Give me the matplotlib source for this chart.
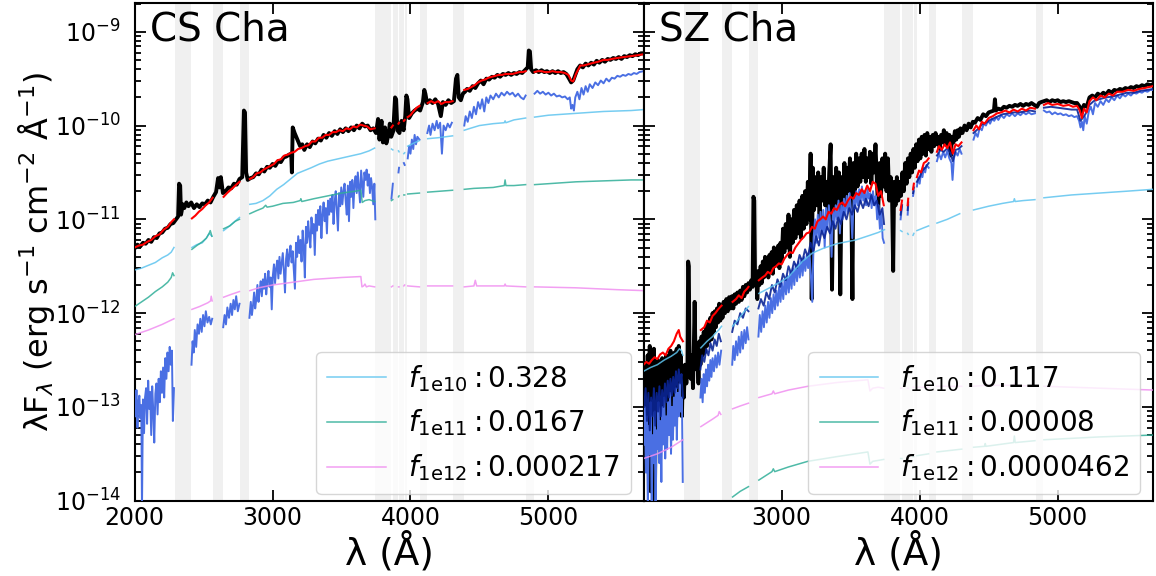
import numpy as np
import matplotlib
matplotlib.use("Agg")
import matplotlib.pyplot as plt
from matplotlib.ticker import LogLocator, FixedLocator

nan = np.nan

# ---------------- shaded (masked) wavelength windows, Angstrom ----------------
mask_bands = [(2290, 2410), (2570, 2640), (2765, 2830), (3745, 3860), (3875, 3912),
              (3918, 3950), (3960, 3978), (4070, 4120), (4310, 4387), (4840, 4895)]

# ---------------- CS Cha : log10(lambda F_lambda) ----------------
cs_obs = [(2000, -11.31), (2020, -11.27), (2040, -11.29), (2060, -11.25), (2080, -11.26), (2100, -11.22),
          (2120, -11.24), (2140, -11.19), (2160, -11.20), (2180, -11.15), (2200, -11.14), (2220, -11.10),
          (2240, -11.09), (2260, -11.05), (2280, -11.04), (2300, -11.00), (2315, -10.97), (2322, -10.62),
          (2330, -10.64), (2336, -10.95), (2350, -10.84), (2360, -10.88), (2375, -10.82), (2390, -10.86),
          (2410, -10.82), (2430, -10.88), (2450, -10.84), (2470, -10.87), (2490, -10.83), (2510, -10.84),
          (2530, -10.80), (2550, -10.82), (2570, -10.76), (2590, -10.71), (2605, -10.56), (2615, -10.66),
          (2625, -10.55), (2640, -10.72), (2660, -10.70), (2680, -10.66), (2700, -10.67), (2720, -10.62),
          (2740, -10.63), (2760, -10.57), (2780, -10.55), (2792, -9.84), (2800, -9.86), (2808, -10.50),
          (2820, -10.58), (2840, -10.56), (2860, -10.55), (2880, -10.51), (2900, -10.52), (2920, -10.47),
          (2940, -10.49), (2960, -10.44), (2980, -10.45), (3000, -10.41), (3020, -10.43), (3040, -10.38),
          (3060, -10.39), (3080, -10.34), (3100, -10.33), (3120, -10.31), (3135, -10.30), (3140, -10.50),
          (3146, -10.02), (3160, -10.08), (3180, -10.15), (3200, -10.22), (3215, -10.20), (3230, -10.26),
          (3250, -10.20), (3270, -10.23), (3290, -10.17), (3310, -10.19), (3330, -10.14), (3350, -10.16),
          (3370, -10.10), (3390, -10.13), (3410, -10.08), (3430, -10.11), (3450, -10.06), (3470, -10.09),
          (3490, -10.04), (3510, -10.07), (3530, -10.03), (3550, -10.06), (3570, -10.02), (3590, -10.05),
          (3610, -10.00), (3630, -10.03), (3650, -9.98), (3670, -10.01), (3690, -10.00), (3710, -10.05),
          (3730, -10.03), (3750, -10.08), (3765, -9.93), (3775, -10.15), (3790, -9.95), (3800, -10.18),
          (3815, -10.02), (3825, -10.19), (3840, -10.10), (3850, -9.98), (3860, -10.12), (3875, -10.06),
          (3888, -9.70), (3896, -9.72), (3905, -10.05), (3920, -10.08), (3935, -9.95), (3950, -10.05),
          (3962, -9.90), (3970, -9.68), (3978, -9.72), (3990, -9.92), (4010, -9.87), (4030, -9.84),
          (4050, -9.82), (4070, -9.84), (4090, -9.75), (4100, -9.62), (4108, -9.66), (4120, -9.76),
          (4140, -9.73), (4160, -9.76), (4180, -9.72), (4200, -9.77), (4220, -9.90), (4235, -9.75),
          (4255, -9.78), (4275, -9.73), (4295, -9.76), (4315, -9.74), (4330, -9.50), (4340, -9.46),
          (4350, -9.70), (4365, -9.73), (4380, -9.66), (4395, -9.64), (4410, -9.61), (4430, -9.63),
          (4450, -9.58), (4470, -9.60), (4490, -9.55), (4510, -9.52), (4530, -9.56), (4550, -9.50),
          (4570, -9.51), (4590, -9.48), (4610, -9.49), (4630, -9.46), (4650, -9.48), (4670, -9.45),
          (4690, -9.46), (4710, -9.44), (4730, -9.46), (4750, -9.44), (4770, -9.45), (4790, -9.43),
          (4810, -9.44), (4830, -9.41), (4850, -9.38), (4858, -9.20), (4866, -9.21), (4875, -9.40),
          (4890, -9.43), (4910, -9.41), (4930, -9.43), (4950, -9.41), (4970, -9.43), (4990, -9.42),
          (5010, -9.44), (5030, -9.42), (5050, -9.44), (5070, -9.42), (5090, -9.44), (5110, -9.43),
          (5130, -9.45), (5150, -9.50), (5165, -9.54), (5180, -9.52), (5195, -9.46), (5210, -9.40),
          (5230, -9.36), (5250, -9.38), (5270, -9.34), (5290, -9.36), (5310, -9.33), (5330, -9.35),
          (5350, -9.31), (5370, -9.33), (5390, -9.30), (5410, -9.32), (5430, -9.29), (5450, -9.30),
          (5470, -9.28), (5490, -9.29), (5510, -9.27), (5530, -9.29), (5550, -9.26), (5570, -9.27),
          (5590, -9.25), (5610, -9.26), (5630, -9.24), (5650, -9.25), (5670, -9.23), (5690, -9.23)]

cs_model = [(2000, -11.30), (2030, -11.28), (2060, -11.27), (2090, -11.24), (2120, -11.22), (2150, -11.18),
            (2180, -11.16), (2210, -11.11), (2240, -11.08), (2265, -11.03), (2285, -11.00), (2290, nan),
            (2415, -10.99), (2440, -10.96), (2465, -10.92), (2490, -10.89), (2515, -10.85), (2540, -10.82),
            (2565, -10.77), (2570, nan), (2645, -10.76), (2670, -10.72), (2700, -10.68), (2730, -10.64),
            (2760, -10.60), (2765, nan), (2835, -10.57), (2860, -10.55), (2885, -10.51), (2910, -10.50),
            (2935, -10.47), (2960, -10.45), (2985, -10.43), (3010, -10.41), (3035, -10.37), (3060, -10.36),
            (3085, -10.32), (3110, -10.31), (3135, -10.29), (3160, -10.28), (3185, -10.25), (3210, -10.24),
            (3235, -10.22), (3260, -10.21), (3285, -10.17), (3310, -10.17), (3335, -10.13), (3360, -10.13),
            (3385, -10.10), (3410, -10.10), (3435, -10.07), (3460, -10.07), (3485, -10.05), (3510, -10.06),
            (3535, -10.03), (3560, -10.04), (3585, -10.01), (3610, -10.02), (3635, -9.99), (3660, -10.00),
            (3685, -10.01), (3710, -10.04), (3740, -10.03), (3745, nan), (3862, -10.02), (3872, -10.00),
            (3875, nan), (3913, -9.98), (3917, -9.97), (3918, nan), (3952, -9.95), (3958, -9.94), (3960, nan),
            (3980, -9.91), (4000, -9.89), (4020, -9.85), (4045, -9.81), (4065, -9.79), (4070, nan),
            (4125, -9.76), (4150, -9.74), (4175, -9.76), (4200, -9.74), (4225, -9.77), (4250, -9.75),
            (4280, -9.75), (4305, -9.74), (4310, nan), (4390, -9.62), (4415, -9.61), (4440, -9.59),
            (4465, -9.57), (4490, -9.54), (4515, -9.52), (4540, -9.51), (4565, -9.49), (4590, -9.48),
            (4615, -9.47), (4640, -9.46), (4665, -9.46), (4690, -9.45), (4715, -9.45), (4740, -9.45),
            (4765, -9.44), (4790, -9.43), (4815, -9.43), (4835, -9.42), (4840, nan), (4900, -9.43),
            (4925, -9.42), (4950, -9.42), (4975, -9.43), (5000, -9.43), (5030, -9.42), (5060, -9.43),
            (5090, -9.43), (5120, -9.44), (5145, -9.46), (5165, -9.52), (5180, -9.53), (5200, -9.45),
            (5231, -9.36), (5255, -9.36), (5280, -9.35), (5305, -9.34), (5330, -9.33), (5360, -9.32),
            (5400, -9.30), (5430, -9.30), (5460, -9.29), (5500, -9.28), (5546, -9.27), (5600, -9.26),
            (5650, -9.25), (5690, -9.24)]

cs_phot = [(2005, -13.10), (2013, -12.82), (2020, -13.22), (2027, -12.95), (2034, -12.88), (2041, -13.12),
           (2048, -12.98), (2053, -14.10), (2060, -12.92), (2068, -13.28), (2075, -12.90), (2083, -12.80),
           (2090, -13.18), (2098, -12.72), (2105, -13.02), (2112, -12.84), (2120, -13.30), (2127, -12.78),
           (2135, -13.05), (2142, -13.38), (2150, -12.86), (2158, -12.75), (2166, -13.08), (2174, -12.70),
           (2182, -12.95), (2190, -12.62), (2198, -12.85), (2206, -12.58), (2214, -12.90), (2222, -12.48),
           (2230, -12.70), (2238, -12.42), (2246, -12.62), (2254, -12.36), (2262, -12.55), (2270, -12.40),
           (2277, -13.15), (2285, -12.80), (2290, nan),
           (2412, -12.55), (2420, -12.30), (2428, -12.42), (2436, -12.18), (2446, -12.36), (2456, -12.12),
           (2466, -12.22), (2476, -12.06), (2486, -12.20), (2496, -12.02), (2506, -12.14), (2516, -11.98),
           (2528, -12.10), (2540, -12.04), (2552, -12.12), (2562, -12.06), (2570, nan),
           (2642, -12.15), (2652, -12.02), (2662, -12.12), (2672, -11.94), (2684, -12.05), (2696, -11.90),
           (2706, -12.02), (2716, -11.86), (2726, -11.96), (2736, -11.82), (2748, -11.98), (2760, -11.90),
           (2765, nan),
           (2832, -12.05), (2842, -11.88), (2850, -12.02), (2858, -11.92), (2866, -11.78), (2874, -11.95),
           (2882, -11.85), (2890, -11.70), (2898, -11.88), (2906, -11.76), (2914, -11.66), (2922, -11.82),
           (2930, -11.64), (2938, -11.74), (2946, -11.58), (2954, -11.80), (2962, -11.66), (2970, -11.55),
           (2978, -11.72), (2986, -11.62), (2994, -11.96), (3002, -11.60), (3010, -11.48), (3018, -11.68),
           (3026, -11.52), (3034, -11.44), (3042, -11.63), (3050, -11.40), (3058, -11.58), (3066, -11.47),
           (3074, -11.36), (3082, -11.55), (3090, -11.78), (3098, -11.42), (3106, -11.32), (3114, -11.50),
           (3122, -11.38), (3130, -11.28), (3138, -11.46), (3146, -11.34), (3154, -11.55), (3162, -11.74),
           (3170, -11.25), (3178, -11.40), (3186, -11.18), (3194, -11.36), (3202, -11.22), (3210, -11.45),
           (3218, -11.12), (3226, -11.30), (3234, -11.62), (3242, -11.08), (3250, -11.25), (3258, -11.02),
           (3266, -11.18), (3274, -11.30), (3282, -10.98), (3290, -11.15), (3298, -11.05), (3306, -11.38),
           (3314, -10.95), (3322, -11.12), (3330, -10.90), (3338, -11.06), (3346, -10.86), (3354, -11.20),
           (3362, -10.95), (3370, -10.82), (3378, -11.02), (3386, -10.88), (3394, -11.15), (3402, -10.80),
           (3410, -10.95), (3418, -10.78), (3426, -10.92), (3434, -10.74), (3442, -11.05), (3450, -10.82),
           (3458, -10.70), (3466, -10.90), (3474, -11.12), (3482, -10.72), (3490, -10.86), (3498, -10.66),
           (3506, -10.84), (3514, -10.70), (3522, -10.62), (3530, -10.80), (3538, -10.95), (3546, -10.64),
           (3554, -11.02), (3562, -10.60), (3570, -10.76), (3578, -10.58), (3586, -10.88), (3594, -10.62),
           (3602, -10.54), (3610, -10.72), (3618, -10.50), (3626, -10.66), (3634, -10.82), (3642, -10.48),
           (3650, -10.62), (3658, -10.76), (3666, -10.50), (3674, -10.58), (3682, -10.47), (3690, -10.64),
           (3698, -10.52), (3706, -10.72), (3714, -10.56), (3722, -10.66), (3730, -10.84), (3738, -10.62),
           (3745, -11.00), (3750, nan),
           (3862, -10.78), (3872, -10.62), (3875, nan), (3913, -10.50), (3917, -10.45),
           (3918, nan), (3952, -10.40), (3958, -10.42), (3960, nan),
           (3980, -10.35), (3990, -10.22), (4000, -10.30), (4010, -10.15), (4020, -10.25), (4030, -10.10),
           (4040, -10.20), (4050, -10.12), (4065, -10.15), (4070, nan),
           (4122, -10.08), (4135, -10.00), (4145, -10.10), (4160, -9.98), (4175, -10.05), (4190, -9.95),
           (4200, -10.03), (4215, -9.97), (4228, -10.30), (4240, -10.00), (4255, -10.05), (4270, -9.98),
           (4285, -10.02), (4300, -9.97), (4310, nan),
           (4390, -10.00), (4400, -9.90), (4415, -9.96), (4430, -9.85), (4445, -9.92), (4460, -9.80),
           (4475, -9.88), (4490, -9.75), (4505, -9.82), (4520, -9.72), (4535, -9.85), (4550, -9.70),
           (4565, -9.76), (4580, -9.68), (4600, -9.72), (4620, -9.66), (4640, -9.70), (4660, -9.65),
           (4680, -9.68), (4700, -9.64), (4720, -9.67), (4740, -9.65), (4760, -9.69), (4780, -9.66),
           (4800, -9.70), (4820, -9.72), (4835, -9.68), (4840, nan),
           (4900, -9.66), (4920, -9.63), (4940, -9.66), (4960, -9.64), (4980, -9.67), (5000, -9.65),
           (5020, -9.68), (5040, -9.66), (5060, -9.69), (5080, -9.68), (5100, -9.70), (5120, -9.69),
           (5140, -9.72), (5155, -9.70), (5165, -9.82), (5175, -9.78), (5185, -9.84), (5195, -9.70),
           (5210, -9.64), (5225, -9.72), (5240, -9.60), (5255, -9.67), (5270, -9.58), (5285, -9.64),
           (5300, -9.56), (5320, -9.60), (5340, -9.54), (5360, -9.57), (5380, -9.52), (5400, -9.55),
           (5420, -9.50), (5440, -9.53), (5460, -9.49), (5480, -9.50), (5500, -9.47), (5520, -9.48),
           (5540, -9.46), (5560, -9.47), (5580, -9.45), (5600, -9.46), (5620, -9.44), (5640, -9.45),
           (5660, -9.43), (5690, -9.42)]

cs_f1e10 = [(2000, -11.54), (2050, -11.52), (2100, -11.49), (2150, -11.46), (2200, -11.41), (2240, -11.38),
            (2265, -11.35), (2285, -11.30), (2290, nan), (2415, -11.30), (2450, -11.27), (2490, -11.25),
            (2520, -11.20), (2540, -11.15), (2560, -11.18), (2570, nan), (2645, -11.12), (2680, -11.08),
            (2720, -11.03), (2760, -10.98), (2765, nan), (2835, -10.84), (2880, -10.83), (2930, -10.80),
            (2980, -10.75), (3030, -10.68), (3080, -10.63), (3130, -10.57), (3180, -10.51), (3230, -10.48),
            (3280, -10.45), (3340, -10.41), (3400, -10.38), (3460, -10.36), (3520, -10.34), (3580, -10.32),
            (3640, -10.30), (3700, -10.27), (3740, -10.24), (3745, nan), (3862, -10.25), (3872, -10.26),
            (3875, nan), (3913, -10.27), (3917, -10.28), (3918, nan), (3952, -10.30), (3958, -10.29),
            (3960, nan), (3980, -10.22), (4020, -10.19), (4065, -10.16), (4070, nan), (4125, -10.14),
            (4200, -10.13), (4305, -10.11), (4310, nan), (4390, -10.05), (4433, -10.03), (4500, -10.00),
            (4600, -9.98), (4680, -9.97), (4686, -9.95), (4692, -9.97), (4750, -9.94), (4835, -9.92),
            (4840, nan), (4900, -9.91), (5000, -9.89), (5200, -9.87), (5400, -9.85), (5600, -9.84),
            (5690, -9.83)]

cs_f1e11 = [(2000, -11.93), (2050, -11.88), (2100, -11.83), (2150, -11.77), (2200, -11.72), (2240, -11.67),
            (2265, -11.62), (2275, -11.57), (2285, -11.60), (2290, nan), (2415, -11.32), (2450, -11.28),
            (2490, -11.24), (2520, -11.20), (2540, -11.15), (2548, -11.12), (2560, -11.18), (2570, nan),
            (2645, -11.10), (2690, -11.07), (2730, -11.02), (2760, -11.00), (2765, nan), (2835, -10.94),
            (2880, -10.91), (2930, -10.88), (2950, -10.85), (2960, -10.87), (3000, -10.86), (3075, -10.83),
            (3150, -10.82), (3200, -10.80), (3205, -10.78), (3212, -10.81), (3300, -10.78), (3400, -10.75),
            (3500, -10.72), (3600, -10.70), (3640, -10.69), (3650, -10.82), (3670, -10.80), (3700, -10.79),
            (3740, -10.81), (3745, nan), (3862, -10.80), (3872, -10.79), (3875, nan), (3913, -10.76),
            (3917, -10.75), (3918, nan), (3952, -10.74), (3958, -10.74), (3960, nan), (3980, -10.73),
            (4065, -10.72), (4070, nan), (4125, -10.71), (4305, -10.69), (4310, nan), (4390, -10.68),
            (4460, -10.67), (4600, -10.66), (4680, -10.64), (4686, -10.58), (4692, -10.64), (4750, -10.64),
            (4835, -10.63), (4840, nan), (4900, -10.63), (5000, -10.62), (5200, -10.60), (5400, -10.59),
            (5600, -10.58), (5690, -10.58)]

cs_f1e12 = [(2000, -12.23), (2100, -12.18), (2200, -12.12), (2285, -12.06), (2290, nan), (2415, -11.96),
            (2470, -11.93), (2530, -11.89), (2550, -11.87), (2555, -11.82), (2562, -11.87), (2570, nan),
            (2645, -11.83), (2700, -11.80), (2760, -11.77), (2765, nan), (2835, -11.76), (2900, -11.73),
            (3000, -11.70), (3100, -11.68), (3200, -11.66), (3300, -11.64), (3400, -11.63), (3500, -11.62),
            (3640, -11.61), (3648, -11.72), (3660, -11.71), (3670, -11.69), (3680, -11.72), (3700, -11.71),
            (3740, -11.72), (3745, nan), (3862, -11.72), (3872, -11.71), (3875, nan), (3913, -11.72),
            (3917, -11.72), (3918, nan), (3952, -11.71), (3958, -11.70), (3960, nan), (3980, -11.71),
            (4065, -11.72), (4070, nan), (4125, -11.71), (4305, -11.71), (4310, nan), (4390, -11.72),
            (4460, -11.71), (4470, -11.65), (4480, -11.71), (4680, -11.71), (4686, -11.69), (4692, -11.71),
            (4835, -11.72), (4840, nan), (4900, -11.72), (5200, -11.73), (5500, -11.75), (5690, -11.76)]

# ---------------- SZ Cha : log10(lambda F_lambda) ----------------
sz_obs = [(2000, -12.60), (2008, -13.30), (2015, -12.55), (2022, -13.60), (2030, -12.45), (2038, -13.10),
          (2045, -12.35), (2052, -13.90), (2060, -12.55), (2068, -13.20), (2075, -12.38), (2082, -14.05),
          (2090, -12.60), (2098, -13.10), (2105, -12.50), (2112, -13.40), (2120, -12.58), (2128, -13.00),
          (2135, -12.48), (2142, -13.30), (2150, -12.55), (2158, -12.95), (2165, -12.45), (2172, -13.20),
          (2180, -12.50), (2188, -12.90), (2195, -12.40), (2202, -13.05), (2210, -12.45), (2218, -12.80),
          (2225, -12.42), (2232, -12.95), (2240, -12.38), (2248, -12.70), (2255, -12.35), (2262, -12.85),
          (2270, -12.45), (2278, -13.10), (2285, -12.60), (2292, -12.90), (2300, -12.55), (2310, -12.75),
          (2318, -12.60), (2323, -11.45), (2328, -11.50), (2333, -12.50), (2342, -12.70), (2350, -12.45),
          (2358, -12.80), (2365, -12.30), (2370, -11.88), (2375, -12.35), (2382, -12.60), (2390, -12.40),
          (2398, -12.75), (2405, -12.30), (2412, -12.55), (2420, -12.25), (2428, -12.45), (2436, -12.20),
          (2444, -12.42), (2452, -12.15), (2460, -12.35), (2468, -12.10), (2476, -12.30), (2484, -12.05),
          (2492, -12.28), (2500, -12.00), (2508, -12.20), (2516, -11.98), (2524, -12.15), (2532, -11.95),
          (2540, -12.10), (2548, -11.90), (2556, -12.08), (2564, -11.92), (2572, -12.05), (2580, -11.88),
          (2590, -12.00), (2600, -11.85), (2610, -11.98), (2620, -11.83), (2630, -11.95), (2640, -11.82),
          (2650, -11.95), (2660, -11.80), (2670, -11.90), (2680, -11.78), (2690, -11.88), (2700, -11.76),
          (2710, -11.86), (2720, -11.72), (2730, -11.82), (2740, -11.70), (2750, -11.78), (2760, -11.68),
          (2770, -11.75), (2780, -11.65), (2790, -11.72), (2796, -10.76), (2802, -10.80), (2808, -11.70),
          (2816, -11.60), (2824, -11.85), (2832, -11.55), (2840, -11.70), (2848, -11.50), (2856, -11.68),
          (2864, -11.45), (2872, -11.62), (2880, -11.40), (2888, -11.58), (2896, -11.42), (2904, -11.62),
          (2912, -11.38), (2920, -11.55), (2928, -11.35), (2936, -11.58), (2944, -11.30), (2952, -11.50),
          (2960, -11.33), (2968, -11.48), (2976, -11.28), (2984, -11.52), (2992, -11.25), (3000, -11.45),
          (3010, -11.10), (3020, -11.35), (3030, -11.05), (3040, -11.30), (3050, -10.95), (3060, -11.40),
          (3070, -11.00), (3080, -11.25), (3090, -10.90), (3100, -11.20), (3110, -10.85), (3120, -11.15),
          (3130, -10.80), (3140, -11.20), (3150, -10.75), (3160, -11.10), (3170, -10.70), (3180, -11.05),
          (3190, -10.60), (3200, -11.00), (3210, -10.30), (3218, -11.85), (3226, -10.45), (3235, -10.90),
          (3245, -10.55), (3255, -10.85), (3265, -10.50), (3275, -11.00), (3285, -10.55), (3295, -10.80),
          (3305, -10.45), (3315, -10.85), (3325, -10.60), (3335, -10.95), (3345, -10.50), (3355, -10.20),
          (3365, -11.75), (3375, -10.55), (3385, -10.85), (3395, -10.45), (3405, -10.80), (3415, -10.50),
          (3425, -11.80), (3435, -10.55), (3445, -10.75), (3455, -10.40), (3465, -10.85), (3475, -10.45),
          (3485, -10.70), (3495, -10.35), (3505, -10.80), (3513, -11.85), (3520, -10.40), (3530, -10.70),
          (3540, -10.30), (3550, -10.65), (3560, -10.35), (3570, -10.60), (3580, -10.30), (3590, -10.55),
          (3600, -10.25), (3610, -10.60), (3620, -10.35), (3630, -10.55), (3640, -10.28), (3650, -10.62),
          (3660, -10.30), (3670, -10.50), (3680, -10.20), (3690, -10.60), (3700, -10.90), (3710, -10.40),
          (3720, -10.75), (3730, -10.35), (3740, -10.65), (3750, -10.30), (3760, -10.70), (3770, -10.35),
          (3780, -10.80), (3790, -10.55), (3800, -10.75), (3808, -11.55), (3815, -10.60), (3825, -10.85),
          (3835, -10.55), (3845, -10.80), (3855, -10.60), (3865, -10.75), (3875, -10.50), (3885, -10.70),
          (3895, -10.40), (3905, -10.62), (3915, -10.35), (3925, -10.55), (3935, -10.30), (3945, -10.50),
          (3955, -10.25), (3965, -10.45), (3975, -10.20), (3985, -10.38), (3995, -10.15), (4005, -10.35),
          (4015, -10.12), (4025, -10.30), (4035, -10.10), (4045, -10.32), (4055, -10.08), (4065, -10.25),
          (4075, -10.12), (4085, -10.28), (4095, -10.10), (4105, -10.22), (4115, -10.08), (4125, -10.20),
          (4135, -10.12), (4145, -10.25), (4155, -10.10), (4165, -10.18), (4175, -10.05), (4185, -10.20),
          (4195, -10.08), (4205, -10.22), (4215, -10.10), (4225, -10.32), (4235, -10.12), (4245, -10.18),
          (4255, -10.06), (4265, -10.15), (4275, -10.05), (4285, -10.12), (4295, -10.03), (4310, -10.08),
          (4325, -10.00), (4340, -10.05), (4355, -9.98), (4370, -10.02), (4385, -9.96), (4400, -9.97),
          (4420, -9.92), (4440, -9.94), (4460, -9.88), (4480, -9.90), (4500, -9.86), (4520, -9.85),
          (4538, -9.84), (4545, -9.72), (4552, -9.84), (4570, -9.82), (4590, -9.83), (4610, -9.80),
          (4630, -9.81), (4650, -9.79), (4670, -9.80), (4690, -9.78), (4710, -9.79), (4730, -9.77),
          (4750, -9.79), (4770, -9.77), (4790, -9.78), (4810, -9.76), (4830, -9.78), (4850, -9.80),
          (4865, -9.76), (4880, -9.75), (4900, -9.74), (4920, -9.73), (4940, -9.75), (4960, -9.73),
          (4980, -9.74), (5000, -9.73), (5020, -9.75), (5040, -9.74), (5060, -9.75), (5080, -9.74),
          (5100, -9.75), (5120, -9.76), (5140, -9.76), (5160, -9.80), (5175, -9.86), (5190, -9.78),
          (5210, -9.80), (5230, -9.70), (5250, -9.68), (5270, -9.70), (5290, -9.66), (5310, -9.68),
          (5330, -9.65), (5350, -9.67), (5370, -9.63), (5390, -9.65), (5410, -9.62), (5430, -9.63),
          (5450, -9.61), (5470, -9.62), (5490, -9.60), (5510, -9.61), (5530, -9.59), (5550, -9.60),
          (5570, -9.58), (5590, -9.59), (5610, -9.57), (5630, -9.58), (5650, -9.56), (5670, -9.57),
          (5690, -9.56)]

sz_model = [(2000, -12.55), (2020, -12.52), (2040, -12.54), (2060, -12.50), (2080, -12.47), (2100, -12.49),
            (2120, -12.44), (2140, -12.42), (2160, -12.45), (2180, -12.38), (2200, -12.35), (2220, -12.30),
            (2240, -12.22), (2255, -12.18), (2265, -12.25), (2285, -12.30), (2290, nan), (2415, -12.18),
            (2440, -12.15), (2460, -12.08), (2480, -12.10), (2500, -12.03), (2520, -12.00), (2540, -11.96),
            (2565, -11.92), (2570, nan), (2645, -11.88), (2670, -11.85), (2690, -11.81), (2710, -11.84),
            (2730, -11.77), (2750, -11.74), (2760, -11.72), (2765, nan), (2835, -11.65), (2860, -11.62),
            (2880, -11.60), (2900, -11.56), (2920, -11.58), (2940, -11.52), (2960, -11.50), (2980, -11.47),
            (3000, -11.48), (3020, -11.42), (3040, -11.38), (3060, -11.35), (3080, -11.36), (3100, -11.30),
            (3120, -11.26), (3140, -11.22), (3160, -11.19), (3180, -11.15), (3200, -11.14), (3220, -11.08),
            (3240, -11.10), (3260, -11.02), (3280, -11.00), (3300, -10.97), (3320, -11.00), (3340, -10.92),
            (3360, -10.94), (3380, -10.88), (3400, -10.90), (3420, -10.84), (3440, -10.82), (3460, -10.86),
            (3480, -10.80), (3500, -10.76), (3520, -10.78), (3540, -10.72), (3560, -10.74), (3580, -10.68),
            (3600, -10.72), (3620, -10.64), (3640, -10.70), (3660, -10.60), (3680, -10.62), (3700, -10.75),
            (3720, -10.70), (3740, -10.85), (3745, nan), (3862, -10.90), (3872, -10.80), (3875, nan),
            (3913, -10.85), (3917, -10.78), (3918, nan), (3952, -10.68), (3958, -10.62), (3960, nan),
            (3980, -10.55), (3995, -10.48), (4010, -10.50), (4030, -10.40), (4050, -10.38), (4065, -10.35),
            (4070, nan), (4125, -10.28), (4140, -10.22), (4160, -10.26), (4180, -10.20), (4200, -10.24),
            (4220, -10.18), (4240, -10.30), (4260, -10.20), (4280, -10.22), (4303, -10.18), (4310, nan),
            (4390, -10.05), (4410, -10.00), (4430, -10.04), (4450, -9.96), (4470, -9.98), (4500, -9.92),
            (4530, -9.90), (4560, -9.87), (4590, -9.86), (4620, -9.84), (4650, -9.86), (4680, -9.83),
            (4710, -9.85), (4740, -9.82), (4770, -9.84), (4800, -9.81), (4835, -9.82), (4840, nan),
            (4900, -9.78), (4930, -9.76), (4960, -9.78), (5000, -9.77), (5040, -9.79), (5080, -9.78),
            (5110, -9.80), (5140, -9.79), (5160, -9.84), (5175, -9.92), (5190, -9.82), (5210, -9.86),
            (5230, -9.74), (5255, -9.70), (5280, -9.73), (5310, -9.68), (5340, -9.70), (5370, -9.66),
            (5400, -9.68), (5430, -9.64), (5470, -9.64), (5510, -9.62), (5550, -9.63), (5590, -9.61),
            (5630, -9.60), (5690, -9.58)]

sz_phot = [(2003, -13.40), (2010, -13.00), (2017, -13.70), (2024, -13.10), (2031, -14.10), (2038, -13.20),
           (2045, -13.50), (2052, -12.95), (2059, -14.10), (2066, -13.30), (2073, -13.60), (2080, -13.05),
           (2087, -14.05), (2094, -13.25), (2101, -13.45), (2108, -12.95), (2115, -13.60), (2122, -13.15),
           (2129, -13.80), (2136, -13.00), (2143, -13.40), (2150, -12.90), (2157, -13.55), (2164, -13.10),
           (2171, -13.45), (2178, -12.95), (2185, -13.30), (2192, -12.85), (2199, -13.50), (2206, -13.00),
           (2213, -13.35), (2220, -12.90), (2227, -13.20), (2234, -12.80), (2241, -13.35), (2248, -12.85),
           (2255, -13.10), (2262, -12.75), (2270, -13.05), (2278, -12.90), (2284, -13.80), (2290, nan),
           (2412, -12.90), (2420, -12.70), (2428, -12.95), (2436, -12.65), (2444, -12.85), (2452, -12.60),
           (2460, -12.78), (2468, -12.55), (2476, -12.72), (2484, -12.50), (2492, -12.68), (2500, -12.48),
           (2510, -12.62), (2520, -12.45), (2530, -12.58), (2540, -12.42), (2550, -12.55), (2562, -12.40),
           (2570, nan),
           (2642, -12.55), (2650, -12.35), (2660, -12.50), (2670, -12.30), (2680, -12.45), (2690, -12.25),
           (2700, -12.42), (2710, -12.20), (2720, -12.38), (2730, -12.18), (2740, -12.32), (2750, -12.15),
           (2760, -12.28), (2765, nan),
           (2832, -12.25), (2842, -12.02), (2852, -12.20), (2862, -11.98), (2872, -12.15), (2882, -11.92),
           (2892, -12.10), (2902, -11.88), (2912, -12.05), (2922, -11.84), (2932, -12.00), (2942, -11.80),
           (2952, -11.96), (2962, -11.76), (2972, -11.92), (2982, -11.72), (2992, -11.88), (3002, -11.68),
           (3012, -11.85), (3022, -11.64), (3032, -11.80), (3042, -11.60), (3052, -11.78), (3062, -11.56),
           (3072, -11.74), (3082, -11.52), (3092, -11.70), (3102, -11.48), (3112, -11.66), (3122, -11.45),
           (3132, -11.62), (3142, -11.42), (3152, -11.60), (3162, -11.40), (3172, -11.55), (3182, -11.38),
           (3192, -11.52), (3202, -11.36), (3212, -11.60), (3222, -11.88), (3232, -11.20), (3242, -11.00),
           (3252, -11.25), (3262, -10.95), (3272, -11.20), (3282, -10.92), (3292, -11.15), (3302, -10.90),
           (3312, -11.30), (3322, -10.88), (3332, -11.10), (3342, -10.85), (3352, -11.05), (3362, -11.40),
           (3372, -10.90), (3382, -11.05), (3392, -10.85), (3402, -11.00), (3412, -10.80), (3422, -11.15),
           (3432, -10.85), (3442, -11.00), (3452, -10.78), (3462, -10.95), (3472, -10.75), (3482, -10.92),
           (3492, -10.72), (3502, -10.90), (3512, -11.20), (3522, -10.78), (3532, -10.88), (3542, -10.70),
           (3552, -10.85), (3562, -10.68), (3572, -10.82), (3582, -10.65), (3592, -10.80), (3602, -10.70),
           (3612, -10.85), (3622, -10.68), (3632, -10.78), (3642, -10.72), (3652, -10.88), (3662, -10.70),
           (3672, -10.85), (3682, -10.75), (3692, -11.00), (3702, -10.85), (3712, -11.10), (3722, -10.90),
           (3732, -11.20), (3742, -11.25), (3745, nan),
           (3862, -11.00), (3872, -10.85), (3875, nan), (3913, -10.95), (3917, -10.85), (3918, nan),
           (3952, -10.75), (3958, -10.70), (3960, nan),
           (3980, -10.65), (3990, -10.55), (4000, -10.62), (4010, -10.50), (4020, -10.55), (4030, -10.45),
           (4040, -10.50), (4050, -10.42), (4065, -10.45), (4070, nan),
           (4125, -10.38), (4140, -10.30), (4155, -10.36), (4170, -10.28), (4185, -10.34), (4200, -10.27),
           (4215, -10.35), (4230, -10.40), (4238, -10.58), (4248, -10.35), (4260, -10.28), (4275, -10.32),
           (4290, -10.25), (4303, -10.30), (4310, nan),
           (4390, -10.15), (4405, -10.08), (4420, -10.12), (4435, -10.02), (4450, -10.05), (4465, -9.98),
           (4480, -10.00), (4495, -9.95), (4510, -9.98), (4525, -9.93), (4540, -9.95), (4555, -9.91),
           (4570, -9.94), (4590, -9.89), (4610, -9.92), (4630, -9.88), (4650, -9.90), (4670, -9.87),
           (4690, -9.90), (4710, -9.87), (4730, -9.89), (4750, -9.86), (4770, -9.88), (4790, -9.86),
           (4810, -9.88), (4835, -9.87), (4840, nan),
           (4900, -9.84), (4920, -9.86), (4940, -9.85), (4960, -9.88), (4980, -9.86), (5000, -9.88),
           (5020, -9.87), (5040, -9.89), (5060, -9.88), (5080, -9.90), (5100, -9.89), (5120, -9.91),
           (5140, -9.90), (5155, -9.95), (5165, -10.02), (5175, -9.96), (5185, -10.05), (5195, -9.90),
           (5210, -9.98), (5225, -9.85), (5240, -9.80), (5255, -9.88), (5270, -9.76), (5290, -9.80),
           (5310, -9.74), (5330, -9.78), (5350, -9.72), (5370, -9.75), (5390, -9.70), (5410, -9.73),
           (5430, -9.68), (5450, -9.71), (5470, -9.67), (5490, -9.69), (5510, -9.66), (5530, -9.68),
           (5550, -9.65), (5570, -9.66), (5590, -9.64), (5610, -9.65), (5630, -9.63), (5650, -9.64),
           (5670, -9.62), (5690, -9.62)]

sz_dark = [(2005, -13.00), (2015, -12.80), (2025, -13.15), (2035, -12.85), (2045, -13.25), (2055, -12.90),
           (2065, -13.10), (2075, -12.80), (2085, -13.20), (2095, -12.85), (2105, -13.05), (2115, -12.78),
           (2125, -13.10), (2135, -12.82), (2145, -13.00), (2155, -12.75), (2165, -12.95), (2175, -12.72),
           (2185, -12.90), (2195, -12.70), (2205, -12.88), (2215, -12.68), (2225, -12.85), (2235, -12.62),
           (2245, -12.80), (2255, -12.60), (2265, -12.75), (2275, -12.65), (2285, -12.90), (2290, nan),
           (2412, -12.60), (2425, -12.45), (2440, -12.52), (2455, -12.38), (2470, -12.45), (2485, -12.32),
           (2500, -12.40), (2515, -12.28), (2530, -12.35), (2545, -12.22), (2560, -12.30), (2570, nan),
           (2642, -12.20), (2660, -12.08), (2680, -12.12), (2700, -12.00), (2720, -12.05), (2740, -11.95),
           (2760, -11.98), (2765, nan),
           (2832, -11.95), (2850, -11.85), (2870, -11.92), (2890, -11.78), (2910, -11.85), (2930, -11.70),
           (2950, -11.78), (2970, -11.64), (2990, -11.72), (3010, -11.58), (3030, -11.65), (3050, -11.50),
           (3070, -11.58), (3090, -11.45), (3110, -11.52), (3130, -11.38), (3150, -11.45), (3170, -11.32),
           (3190, -11.40), (3210, -11.25), (3230, -11.35), (3250, -11.18), (3270, -11.28), (3290, -11.12),
           (3310, -11.20), (3330, -11.08), (3350, -11.15), (3370, -11.02), (3390, -11.10), (3410, -10.98),
           (3430, -11.05), (3450, -10.92), (3470, -11.00), (3490, -10.88), (3510, -10.95), (3530, -10.85),
           (3550, -10.92), (3570, -10.80), (3590, -10.88), (3610, -10.78), (3630, -10.86), (3650, -10.74),
           (3670, -10.85), (3690, -10.80), (3710, -10.95), (3730, -10.88), (3742, -11.05), (3745, nan),
           (3862, -10.95), (3872, -10.85), (3875, nan), (3913, -10.90), (3917, -10.82), (3918, nan),
           (3952, -10.72), (3958, -10.66), (3960, nan), (3980, -10.60), (4000, -10.55), (4020, -10.48),
           (4040, -10.45), (4065, -10.40), (4070, nan), (4125, -10.32), (4150, -10.26), (4175, -10.28),
           (4200, -10.24), (4225, -10.30), (4240, -10.38), (4260, -10.26), (4280, -10.25), (4303, -10.22),
           (4310, nan), (4390, -10.08), (4420, -10.04), (4450, -9.99), (4480, -9.97), (4510, -9.94),
           (4540, -9.92), (4570, -9.90), (4600, -9.88), (4640, -9.87), (4680, -9.86), (4720, -9.86),
           (4760, -9.85), (4800, -9.84), (4835, -9.85), (4840, nan), (4900, -9.81), (4950, -9.80),
           (5000, -9.81), (5050, -9.82), (5100, -9.83), (5140, -9.83), (5165, -9.95), (5180, -9.92),
           (5200, -9.88), (5230, -9.78), (5260, -9.74), (5300, -9.72), (5350, -9.70), (5400, -9.69),
           (5450, -9.67), (5500, -9.65), (5550, -9.65), (5600, -9.63), (5650, -9.62), (5690, -9.61)]

sz_f1e10 = [(2000, -12.62), (2050, -12.58), (2100, -12.55), (2150, -12.50), (2200, -12.46), (2240, -12.42),
            (2260, -12.38), (2275, -12.40), (2285, -12.45), (2290, nan), (2415, -12.37), (2460, -12.30),
            (2500, -12.25), (2530, -12.20), (2545, -12.18), (2565, -12.14), (2570, nan), (2645, -12.14),
            (2680, -12.08), (2720, -12.00), (2760, -11.93), (2765, nan), (2835, -11.79), (2900, -11.74),
            (2950, -11.70), (3000, -11.66), (3053, -11.61), (3100, -11.53), (3150, -11.45), (3222, -11.36),
            (3300, -11.31), (3400, -11.26), (3537, -11.22), (3640, -11.17), (3700, -11.14), (3745, -11.11),
            (3750, nan), (3862, -11.12), (3872, -11.13), (3875, nan), (3913, -11.15), (3917, -11.16),
            (3918, nan), (3952, -11.17), (3958, -11.15), (3960, nan), (3980, -11.12), (4030, -11.09),
            (4065, -11.07), (4070, nan), (4125, -11.04), (4200, -11.00), (4290, -10.94), (4310, nan),
            (4390, -10.90), (4500, -10.86), (4600, -10.83), (4680, -10.81), (4686, -10.78), (4692, -10.81),
            (4750, -10.80), (4835, -10.79), (4840, nan), (4900, -10.77), (5100, -10.74), (5300, -10.72),
            (5500, -10.70), (5690, -10.68)]

sz_f1e11 = [(2645, -13.96), (2700, -13.90), (2760, -13.85), (2765, nan), (2835, -13.78), (2930, -13.69),
            (2940, -13.66), (2950, -13.69), (3050, -13.64), (3190, -13.58), (3400, -13.53), (3625, -13.48),
            (3640, -13.61), (3660, -13.58), (3700, -13.57), (3740, -13.56), (3745, nan), (3862, -13.55),
            (3872, -13.55), (3875, nan), (3913, -13.54), (3917, -13.54), (3918, nan), (3952, -13.53),
            (3958, -13.53), (3960, nan), (3980, -13.52), (4065, -13.50), (4070, nan), (4125, -13.48),
            (4305, -13.45), (4310, nan), (4390, -13.43), (4470, -13.42), (4475, -13.39), (4480, -13.42),
            (4680, -13.38), (4686, -13.31), (4692, -13.38), (4835, -13.36), (4840, nan), (4900, -13.35),
            (5300, -13.32), (5690, -13.30)]

sz_f1e12 = [(2000, -13.55), (2100, -13.50), (2200, -13.43), (2285, -13.35), (2290, nan), (2415, -13.21),
            (2500, -13.13), (2540, -13.09), (2548, -13.05), (2560, -13.08), (2570, nan), (2645, -13.02),
            (2700, -12.99), (2760, -12.96), (2765, nan), (2835, -12.90), (2930, -12.86), (2940, -12.83),
            (2950, -12.86), (3050, -12.82), (3190, -12.78), (3400, -12.74), (3625, -12.71), (3640, -12.83),
            (3660, -12.80), (3700, -12.79), (3740, -12.80), (3745, nan), (3862, -12.80), (3872, -12.80),
            (3875, nan), (3913, -12.80), (3917, -12.80), (3918, nan), (3952, -12.79), (3958, -12.79),
            (3960, nan), (3980, -12.79), (4065, -12.79), (4070, nan), (4125, -12.78), (4305, -12.78),
            (4310, nan), (4390, -12.78), (4470, -12.77), (4475, -12.73), (4480, -12.77), (4680, -12.77),
            (4686, -12.75), (4692, -12.77), (4835, -12.78), (4840, nan), (4900, -12.78), (5300, -12.80),
            (5690, -12.82)]

cs_labels = [r"$f_{\mathrm{1e10}}: 0.328$", r"$f_{\mathrm{1e11}}: 0.0167$", r"$f_{\mathrm{1e12}}: 0.000217$"]
sz_labels = [r"$f_{\mathrm{1e10}}: 0.117$", r"$f_{\mathrm{1e11}}: 0.00008$", r"$f_{\mathrm{1e12}}: 0.0000462$"]
names = ["CS Cha", "SZ Cha"]

# ---------------- styling ----------------
C_OBS, C_MOD, C_PHOT, C_DARK = "black", "red", "#4a6fe3", "#0b2596"
C_10, C_11, C_12 = "#5ec4ef", "#2fae98", "#f08ef0"


def xy(pairs):
    a = np.array(pairs, dtype=float)
    return a[:, 0], 10.0 ** a[:, 1]


fig = plt.figure(figsize=(11.56, 5.76), dpi=100)
axL = fig.add_axes([0.1165, 0.1307, 0.4402, 0.8646])
axR = fig.add_axes([0.5567, 0.1307, 0.4407, 0.8646], sharey=axL)

panels = [
    (axL, cs_obs, cs_model, cs_phot, None, cs_f1e10, cs_f1e11, cs_f1e12, cs_labels, names[0]),
    (axR, sz_obs, sz_model, sz_phot, sz_dark, sz_f1e10, sz_f1e11, sz_f1e12, sz_labels, names[1]),
]

for ax, obs, mod, phot, dark, f10, f11, f12, labels, name in panels:
    for lo, hi in mask_bands:
        ax.axvspan(lo, hi, color="#f0f0f0", lw=0, zorder=0)
    ax.plot(*xy(obs), color=C_OBS, lw=2.8, zorder=2)
    ax.plot(*xy(phot), color=C_PHOT, lw=1.4, zorder=3)
    if dark is not None:
        ax.plot(*xy(dark), color=C_DARK, lw=1.4, alpha=0.9, zorder=3)
    l1, = ax.plot(*xy(f10), color=C_10, lw=1.1, alpha=0.85, zorder=4, label=labels[0])
    l2, = ax.plot(*xy(f11), color=C_11, lw=1.1, alpha=0.85, zorder=4, label=labels[1])
    l3, = ax.plot(*xy(f12), color=C_12, lw=1.1, alpha=0.85, zorder=4, label=labels[2])
    ax.plot(*xy(mod), color=C_MOD, lw=1.5, zorder=5)

    ax.set_yscale("log")
    ax.set_xlim(2000, 5690)
    ax.set_ylim(1e-14, 2.04e-9)
    ax.xaxis.set_major_locator(FixedLocator([2000, 3000, 4000, 5000]))
    ax.yaxis.set_major_locator(LogLocator(base=10, numticks=20))
    ax.yaxis.set_minor_locator(LogLocator(base=10, subs=np.arange(2, 10), numticks=20))
    ax.tick_params(which="both", direction="in", top=True, right=True, labelsize=17, width=1.3)
    ax.tick_params(which="major", length=8)
    ax.tick_params(which="minor", length=4)
    ax.tick_params(axis="y", which="major", pad=10)
    for s in ax.spines.values():
        s.set_linewidth(1.5)
    ax.set_xlabel("λ (Å)", fontsize=27, labelpad=2)
    ax.text(0.03, 0.985, name, transform=ax.transAxes, fontsize=28, va="top", ha="left")
    ax.legend(handles=[l1, l2, l3], loc="lower right", bbox_to_anchor=(0.975, 0.013),
              borderaxespad=0, fontsize=20, handlelength=2.1, handletextpad=0.8,
              labelspacing=0.5)

axR.tick_params(labelleft=False)
axR.set_xticks([3000, 4000, 5000])
axL.set_ylabel(r"λF$_\lambda$ (erg s$^{-1}$ cm$^{-2}$ Å$^{-1}$)", fontsize=23, labelpad=-2)

fig.savefig("out.png", dpi=100)
